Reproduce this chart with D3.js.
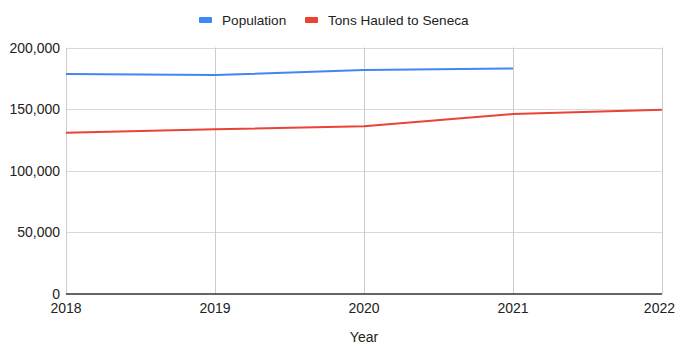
<!DOCTYPE html>
<html>
<head>
<meta charset="utf-8">
<script src="https://cdn.jsdelivr.net/npm/d3@7"></script>
<style>
  body { margin: 0; background: #fff; }
  svg { font-family: Arial, "Liberation Sans", sans-serif; }
</style>
</head>
<body>
<svg></svg>
<script>
const years = [2018, 2019, 2020, 2021, 2022];
const population = [178500, 177600, 181700, 183000, null];
const tons = [130900, 133600, 136100, 146000, 149500];
const yTicks = [0, 50000, 100000, 150000, 200000];

const width = 676, height = 345;
const margin = { top: 47.5, right: 14, bottom: 51, left: 66 };

const svg = d3.select('svg').attr('width', width).attr('height', height);

const x = d3.scaleLinear()
  .domain([2018, 2022])
  .range([margin.left, width - margin.right]);

const y = d3.scaleLinear()
  .domain([0, 200000])
  .range([height - margin.bottom, margin.top]);

// horizontal grid
svg.append('g')
  .selectAll('line')
  .data(yTicks.slice(1))
  .enter()
  .append('line')
  .attr('x1', margin.left).attr('x2', width - margin.right)
  .attr('y1', d => Math.round(y(d)) + 0.5).attr('y2', d => Math.round(y(d)) + 0.5)
  .style('stroke', '#d9d9d9')
  .style('stroke-width', 1);

// vertical grid
svg.append('g')
  .selectAll('line')
  .data(years)
  .enter()
  .append('line')
  .attr('x1', d => Math.round(x(d)) + 0.5).attr('x2', d => Math.round(x(d)) + 0.5)
  .attr('y1', margin.top).attr('y2', y(0))
  .style('stroke', '#cccccc')
  .style('stroke-width', 1);

// baseline
svg.append('line')
  .attr('x1', margin.left).attr('x2', width - margin.right)
  .attr('y1', y(0)).attr('y2', y(0))
  .style('stroke', '#333')
  .style('stroke-width', 1.3);

// y labels
svg.append('g')
  .selectAll('text')
  .data(yTicks)
  .enter()
  .append('text')
  .attr('x', 60)
  .attr('y', d => y(d) + 5)
  .attr('text-anchor', 'end')
  .style('font-size', '14px')
  .style('fill', '#222')
  .text(d => d3.format(',')(d));

// x labels (last one kept inside the frame)
svg.append('g')
  .selectAll('text')
  .data(years)
  .enter()
  .append('text')
  .attr('x', (d, i) => i === years.length - 1 ? width - 1 : x(d))
  .attr('y', y(0) + 19)
  .attr('text-anchor', (d, i) => i === years.length - 1 ? 'end' : 'middle')
  .style('font-size', '14px')
  .style('fill', '#222')
  .text(d => d);

svg.append('text')
  .attr('x', (margin.left + width - margin.right) / 2)
  .attr('y', 342)
  .attr('text-anchor', 'middle')
  .style('font-size', '14px')
  .style('fill', '#222')
  .text('Year');

const line = d3.line()
  .defined(d => d[1] != null)
  .x(d => x(d[0]))
  .y(d => y(d[1]));

const series = [
  { name: 'Population', values: population, color: '#4285f4' },
  { name: 'Tons Hauled to Seneca', values: tons, color: '#ea4335' }
];

series.forEach(s => {
  svg.append('path')
    .datum(years.map((yr, i) => [yr, s.values[i]]))
    .attr('d', line)
    .style('fill', 'none')
    .style('stroke', s.color)
    .style('stroke-width', 2);
});

// legend
const legend = svg.append('g');
const legendX = [199, 305];
series.forEach((s, i) => {
  legend.append('rect')
    .attr('x', legendX[i]).attr('y', 17)
    .attr('width', 13).attr('height', 6)
    .attr('rx', 1)
    .style('fill', s.color);
  legend.append('text')
    .attr('x', legendX[i] + 23)
    .attr('y', 25)
    .style('font-size', '13.6px')
    .style('fill', '#222')
    .text(s.name);
});
</script>
</body>
</html>
